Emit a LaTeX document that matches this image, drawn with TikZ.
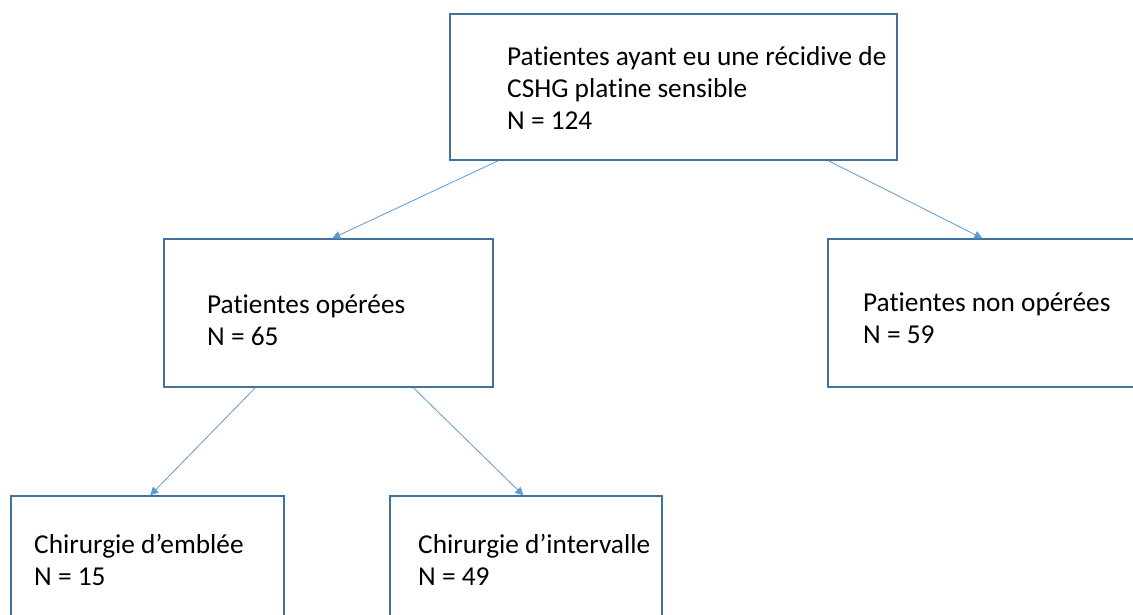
\documentclass[tikz,border=0pt]{standalone}
\usepackage{fontspec}
\setmainfont{Carlito}[Ligatures=NoCommon]
\usetikzlibrary{arrows.meta}
\definecolor{boxline}{HTML}{41719C}
\definecolor{arrowline}{HTML}{5B9BD5}
\tikzset{
  box/.style={draw=boxline, line width=1.4pt, rectangle, inner sep=0pt, fill=none},
  txt/.style={inner sep=0pt, align=left, anchor=base west, font=\fontsize{27.3}{32}\selectfont, text=black},
  conn/.style={draw=arrowline, line width=0.8pt, -{Triangle[length=8pt,width=8pt]}}
}
\begin{document}
\begin{tikzpicture}[x=1pt,y=-1pt]
\useasboundingbox (0,0) rectangle (1133,614);
\node[box, minimum width=447pt, minimum height=146pt] (top) at (673.5,87) {};
\node[box, minimum width=329pt, minimum height=148pt] (midL) at (328.5,313) {};
\node[box, minimum width=315pt, minimum height=148pt] (midR) at (985.5,313) {};
\node[box, minimum width=273pt, minimum height=144pt] (botL) at (147.5,568) {};
\node[box, minimum width=272pt, minimum height=144pt] (botM) at (526,568) {};

\node[txt] (toptxt) at (507,129) {Patientes ayant eu une récidive de\\CSHG platine sensible\\N = 124};
\node[txt] (midLtxt) at (207,345) {Patientes opérées\\N = 65};
\node[txt] (midRtxt) at (863,343) {Patientes non opérées\\N = 59};
\node[txt] (botLtxt) at (34,585) {Chirurgie d’emblée\\N = 15};
\node[txt] (botMtxt) at (418,585) {Chirurgie d’intervalle\\N = 49};

\draw[conn] ([xshift=49pt]top.south west) -- ([xshift=169pt]midL.north west);
\draw[conn] ([xshift=379pt]top.south west) -- ([xshift=155pt]midR.north west);
\draw[conn] ([xshift=92pt]midL.south west) -- ([xshift=140pt]botL.north west);
\draw[conn] ([xshift=250pt]midL.south west) -- ([xshift=134pt]botM.north west);
\end{tikzpicture}
\end{document}
